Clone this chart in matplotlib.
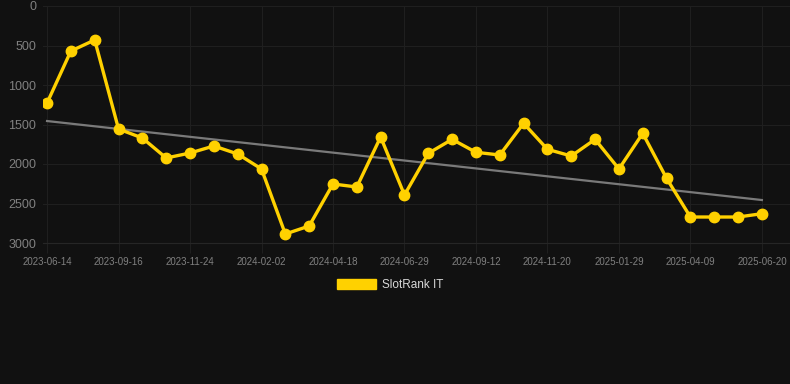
import numpy as np
import matplotlib
matplotlib.use("Agg")
import matplotlib.pyplot as plt
from matplotlib.patches import Patch

plt.rcParams['font.family'] = ['Liberation Sans', 'DejaVu Sans']

# rank values (lower is better), one per period
ranks = [1228, 570, 430, 1557, 1671, 1924, 1861, 1772, 1873, 2063,
         2886, 2785, 2253, 2291, 1658, 2392, 1865, 1688, 1852, 1886,
         1485, 1814, 1899, 1688, 2063, 1612, 2181, 2671, 2671, 2671, 2629]
tick_labels = ["2023-06-14", "2023-09-16", "2023-11-24", "2024-02-02", "2024-04-18",
               "2024-06-29", "2024-09-12", "2024-11-20", "2025-01-29", "2025-04-09",
               "2025-06-20"]
trend_ends = [1456, 2456]
series_name = "SlotRank IT"

bg = "#111111"
gold = "#FFD100"
gridc = "#1f1f1f"

fig = plt.figure(figsize=(7.9, 3.84), dpi=100, facecolor=bg)
ax = fig.add_axes([43/790, 1 - 243/384, 1 - 43/790, 237/384])
ax.set_facecolor(bg)

x = np.arange(len(ranks))
ax.plot([x[0], x[-1]], trend_ends, color="#7a7a7a", lw=1.6, zorder=2)
ax.plot(x, ranks, color=gold, lw=2.4, marker="o", ms=7.5, zorder=3)

ax.set_xlim(-0.17, 31.18)
ax.set_ylim(3000, 0)
ax.set_yticks([0, 500, 1000, 1500, 2000, 2500, 3000])
ax.set_xticks(x[::3])
ax.set_xticklabels(tick_labels)

ax.grid(True, color=gridc, lw=0.8)
ax.set_axisbelow(True)
for s in ax.spines.values():
    s.set_visible(False)
ax.spines["bottom"].set_visible(True)
ax.spines["bottom"].set_color("#262626")
ax.spines["bottom"].set_linewidth(0.8)
ax.tick_params(axis="y", length=0, pad=5, labelsize=9, labelcolor="#808080")
ax.tick_params(axis="x", length=7, width=0.8, color=gridc, pad=3, labelsize=7, labelcolor="#808080")

handle = Patch(facecolor=gold, edgecolor=gold)
leg = fig.legend([handle], [series_name], loc="center", bbox_to_anchor=(390/790, 1 - 285/384),
                 frameon=False, handlelength=3.3, handleheight=0.95, handletextpad=0.5,
                 fontsize=8.5)
for t in leg.get_texts():
    t.set_color("#d8d8d8")

fig.savefig("out.png", dpi=100, facecolor=bg)
